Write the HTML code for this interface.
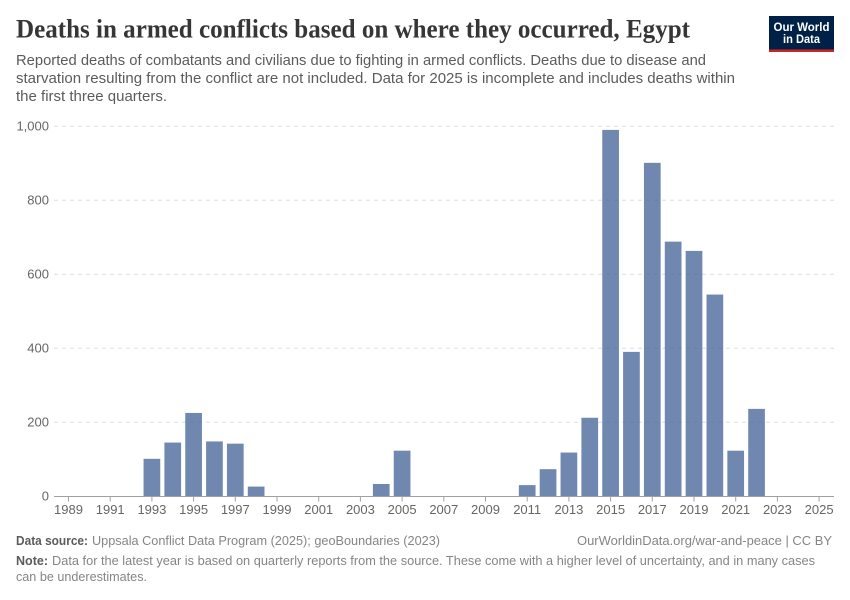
<!DOCTYPE html>
<html lang="en">
<head>
<meta charset="utf-8">
<title>Deaths in armed conflicts based on where they occurred, Egypt</title>
<style>
html,body{margin:0;padding:0;background:#fff;}
svg{display:block;font-family:"Liberation Sans",sans-serif;}
</style>
</head>
<body>
<svg id="chart" xmlns="http://www.w3.org/2000/svg" width="850" height="600" viewBox="0 0 850 600">
  <rect width="850" height="600" fill="#fff"/>
  <text x="16" y="37.5" font-family="'Liberation Serif',serif" font-weight="700" font-size="26" fill="#363636" textLength="674" lengthAdjust="spacingAndGlyphs">Deaths in armed conflicts based on where they occurred, Egypt</text>
  <text x="16" y="65" font-size="15" fill="#5b5b5b" textLength="690" lengthAdjust="spacingAndGlyphs">Reported deaths of combatants and civilians due to fighting in armed conflicts. Deaths due to disease and</text>
  <text x="16" y="83" font-size="15" fill="#5b5b5b" textLength="719" lengthAdjust="spacingAndGlyphs">starvation resulting from the conflict are not included. Data for 2025 is incomplete and includes deaths within</text>
  <text x="16" y="101" font-size="15" fill="#5b5b5b" textLength="151" lengthAdjust="spacingAndGlyphs">the first three quarters.</text>

  <g>
    <rect x="769" y="16" width="65" height="36" fill="#002147"/>
    <rect x="769" y="49.5" width="65" height="2.5" fill="#ce261e"/>
    <text x="801.5" y="31" text-anchor="middle" font-size="11.5" font-weight="700" fill="#fff" textLength="56" lengthAdjust="spacingAndGlyphs">Our World</text>
    <text x="801.5" y="43" text-anchor="middle" font-size="11.5" font-weight="700" fill="#fff" textLength="37" lengthAdjust="spacingAndGlyphs">in Data</text>
  </g>

  <g id="grid"></g>
  <g id="y-labels"></g>
  <g id="bars"></g>
  <g id="x-axis"></g>

  <text x="16" y="545" font-size="13" font-weight="700" fill="#5b5b5b" textLength="72" lengthAdjust="spacingAndGlyphs">Data source:</text>
  <text x="92" y="545" font-size="13" fill="#858585" textLength="348" lengthAdjust="spacingAndGlyphs">Uppsala Conflict Data Program (2025); geoBoundaries (2023)</text>
  <text x="577" y="545" font-size="13" fill="#858585" textLength="255" lengthAdjust="spacingAndGlyphs">OurWorldinData.org/war-and-peace | CC BY</text>
  <text x="16" y="565" font-size="13" font-weight="700" fill="#5b5b5b" textLength="32" lengthAdjust="spacingAndGlyphs">Note:</text>
  <text x="52" y="565" font-size="13" fill="#858585" textLength="763" lengthAdjust="spacingAndGlyphs">Data for the latest year is based on quarterly reports from the source. These come with a higher level of uncertainty, and in many cases</text>
  <text x="16" y="581" font-size="13" fill="#858585" textLength="131" lengthAdjust="spacingAndGlyphs">can be underestimates.</text>
</svg>
<script>
const barYears = [1993, 1994, 1995, 1996, 1997, 1998, 2004, 2005, 2011, 2012, 2013, 2014, 2015, 2016, 2017, 2018, 2019, 2020, 2021, 2022];
const deaths = [101, 145, 225, 148, 142, 26, 33, 123, 30, 73, 118, 212, 990, 390, 901, 688, 663, 545, 123, 236];
const xTickYears = [1989, 1991, 1993, 1995, 1997, 1999, 2001, 2003, 2005, 2007, 2009, 2011, 2013, 2015, 2017, 2019, 2021, 2023, 2025];
const yTicks = [0, 200, 400, 600, 800, 1000];

const NS = 'http://www.w3.org/2000/svg';
const xScale = function (year) { return 68.5 + (year - 1989) * 20.85; };
const yScale = function (value) { return 496.2 - value * 0.37; };
const barWidth = 16.7;

function make(tag, attrs, parent, text) {
  const el = document.createElementNS(NS, tag);
  for (const k in attrs) el.setAttribute(k, attrs[k]);
  if (text !== undefined) el.textContent = text;
  parent.appendChild(el);
  return el;
}

const gridGroup = document.getElementById('grid');
const yLabelGroup = document.getElementById('y-labels');
yTicks.forEach(function (t) {
  if (t !== 0) {
    const line = make('line', {x1: 54, x2: 834, y1: yScale(t), y2: yScale(t), stroke: '#dddddd', 'stroke-width': 1, 'stroke-dasharray': '4,4'}, gridGroup);
    
    
  }
  const label = make('text', {x: 49, y: yScale(t) + 4.5, 'text-anchor': 'end', 'font-size': 13, fill: '#666666'}, yLabelGroup, t.toLocaleString('en-US'));
  
  
});

const barGroup = document.getElementById('bars');
barYears.forEach(function (year, i) {
  const top = yScale(deaths[i]);
  const rect = make('rect', {x: xScale(year) - barWidth / 2, y: top, width: barWidth, height: yScale(0) - top, fill: '#4c6a9c', 'fill-opacity': 0.8}, barGroup);
  
  
});

const xGroup = document.getElementById('x-axis');
const axisLine = make('line', {x1: 54, x2: 834, y1: 496.5, y2: 496.5, stroke: '#a1a1a1', 'stroke-width': 1}, xGroup);


xTickYears.forEach(function (year) {
  const x = xScale(year);
  const tick = make('line', {x1: x, x2: x, y1: 496.5, y2: 501.5, stroke: '#a1a1a1', 'stroke-width': 1}, xGroup);
  
  
  const label = make('text', {x: x, y: 514, 'text-anchor': 'middle', 'font-size': 13, fill: '#666666'}, xGroup, String(year));
  
  
});
</script>
</body>
</html>
